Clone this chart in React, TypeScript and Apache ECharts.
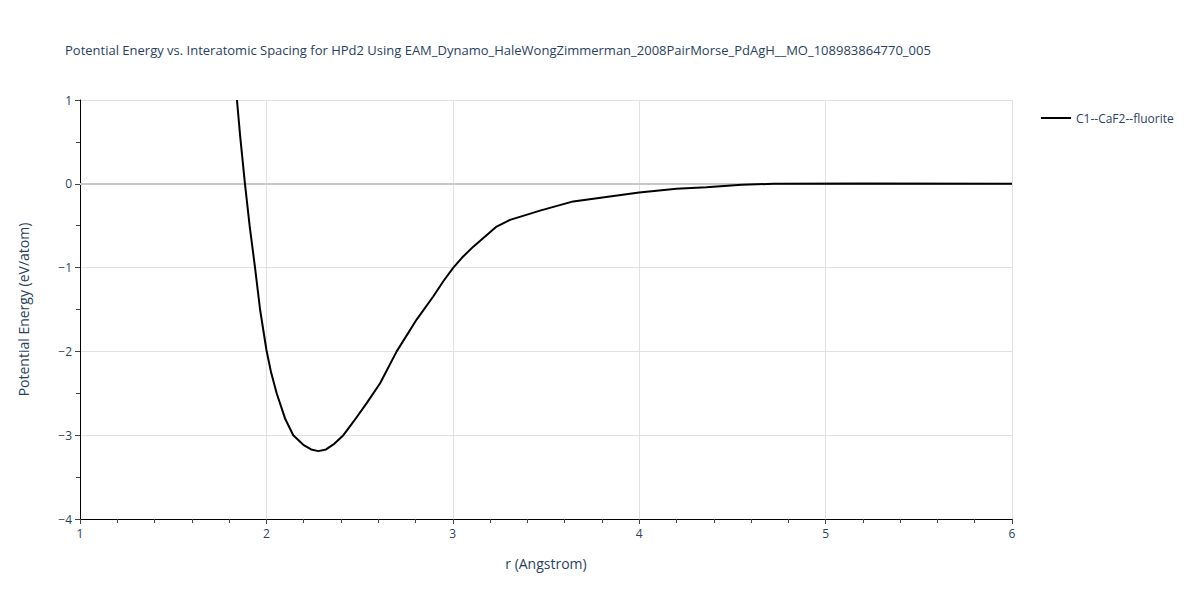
import React, { useEffect, useRef } from "react";
import * as echarts from "echarts";

const TITLE =
  "Potential Energy vs. Interatomic Spacing for HPd2 Using EAM_Dynamo_HaleWongZimmerman_2008PairMorse_PdAgH__MO_108983864770_005";
const SERIES_NAME = "C1--CaF2--fluorite";
const rValues = [
  1.842, 1.86, 1.885, 1.91, 1.939, 1.966, 2.0, 2.025, 2.055, 2.1, 2.144, 2.198, 2.24, 2.279, 2.32,
  2.36, 2.413, 2.47, 2.538, 2.61, 2.699, 2.806, 2.895, 2.95, 3.003, 3.05, 3.11, 3.235, 3.307, 3.468,
  3.646, 4.0, 4.2, 4.36, 4.55, 4.72, 5.2, 6.0,
];
const energyValues = [
  1.0, 0.55, 0.0, -0.5, -1.0, -1.5, -1.98, -2.25, -2.5, -2.8, -3.0, -3.115, -3.17, -3.19, -3.17,
  -3.11, -3.0, -2.83, -2.617, -2.38, -2.0, -1.62, -1.345, -1.16, -1.0, -0.88, -0.75, -0.51, -0.43,
  -0.32, -0.21, -0.105, -0.06, -0.04, -0.012, 0.0, 0.003, 0.0,
];

const FONT = "'Open Sans', 'DejaVu Sans', sans-serif";
const TXT = "#2a3f5f";

export default function App() {
  const ref = useRef<HTMLDivElement>(null);
  useEffect(() => {
    if (!ref.current) return;
    const chart = echarts.init(ref.current, undefined, { renderer: "svg" });
    const fmt = (v: number) => String(v).replace("-", "\u2212");
    chart.setOption({
      animation: false,
      textStyle: { fontFamily: FONT },
      title: {
        text: TITLE,
        left: 60,
        top: 38,
        textStyle: { fontSize: 13, fontWeight: "normal", color: TXT, fontFamily: FONT },
      },
      legend: {
        data: [SERIES_NAME],
        left: 1036,
        top: 107,
        orient: "vertical",
        icon: "rect",
        itemWidth: 30,
        itemHeight: 2,
        itemGap: 8,
        textStyle: { fontSize: 12, color: TXT, fontFamily: FONT },
      },
      grid: { left: 80, right: 188, top: 100, bottom: 81, containLabel: false },
      xAxis: {
        type: "value",
        min: 1,
        max: 6,
        interval: 1,
        name: "r (Angstrom)",
        nameLocation: "middle",
        nameGap: 37,
        nameTextStyle: { fontSize: 14, color: TXT, fontFamily: FONT },
        axisLine: { show: true, onZero: false, lineStyle: { color: "#000", width: 1 } },
        axisTick: { show: true, length: 5, lineStyle: { color: "#444" } },
        minorTick: { show: true, splitNumber: 5, length: 4, lineStyle: { color: "#444" } },
        axisLabel: { fontSize: 12, color: TXT, margin: 8, formatter: fmt },
        splitLine: { show: true, lineStyle: { color: "#e1e1e1", width: 1 } },
      },
      yAxis: {
        type: "value",
        min: -4,
        max: 1,
        interval: 1,
        name: "Potential Energy (eV/atom)",
        nameLocation: "middle",
        nameGap: 50,
        nameTextStyle: { fontSize: 14, color: TXT, fontFamily: FONT },
        axisLine: { show: true, onZero: false, lineStyle: { color: "#000", width: 1 } },
        axisTick: { show: true, length: 5, lineStyle: { color: "#444" } },
        minorTick: { show: true, splitNumber: 2, length: 4, lineStyle: { color: "#444" } },
        axisLabel: { fontSize: 12, color: TXT, margin: 8, formatter: fmt },
        splitLine: { show: true, lineStyle: { color: "#e1e1e1", width: 1 } },
      },
      series: [
        {
          name: SERIES_NAME,
          type: "line",
          data: rValues.map((r, i) => [r, energyValues[i]]),
          showSymbol: false,
          smooth: false,
          lineStyle: { color: "#000", width: 2 },
          itemStyle: { color: "#000" },
          markLine: {
            silent: true,
            symbol: "none",
            label: { show: false },
            lineStyle: { color: "#c8c8c8", width: 2, type: "solid" },
            data: [{ yAxis: 0 }],
            z: 1,
          },
        },
      ],
    });
    return () => chart.dispose();
  }, []);
  return (
    <div
      ref={ref}
      style={{ position: "fixed", left: 0, top: 0, width: 1200, height: 600, background: "#fff" }}
    />
  );
}
